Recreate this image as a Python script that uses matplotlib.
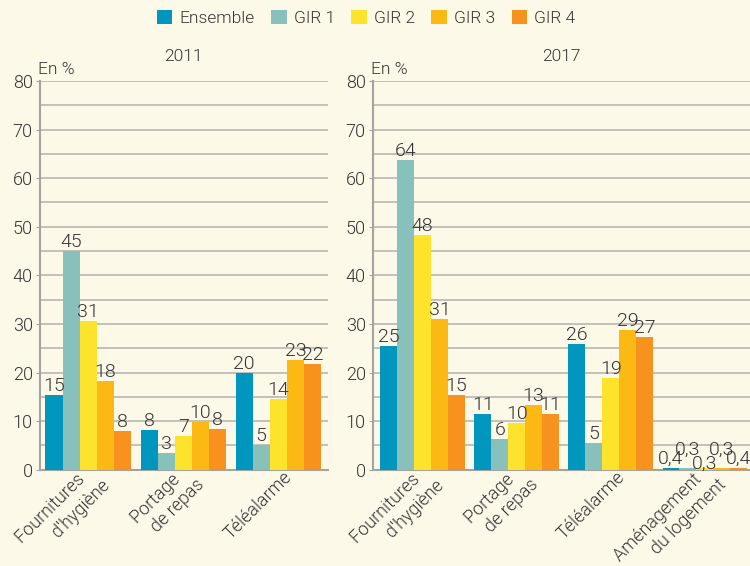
import matplotlib
matplotlib.use("Agg")
import numpy as np
import matplotlib.pyplot as plt
import matplotlib.transforms as mtransforms
from matplotlib.patches import Patch

# -------- DATA --------
series = ["Ensemble", "GIR 1", "GIR 2", "GIR 3", "GIR 4"]

cats_2011 = ["Fournitures   \nd'hygiène", "Portage   \nde repas", "Téléalarme"]
vals_2011 = [
    [15.3, 8.2, 20.0],   # Ensemble
    [45.0, 3.4, 5.0],    # GIR 1
    [30.7, 6.9, 14.5],   # GIR 2
    [18.3, 9.8, 22.5],   # GIR 3
    [7.9, 8.4, 21.7],    # GIR 4
]
labels_2011 = [
    ["15", "8", "20"],
    ["45", "3", "5"],
    ["31", "7", "14"],
    ["18", "10", "23"],
    ["8", "8", "22"],
]

cats_2017 = ["Fournitures   \nd'hygiène", "Portage   \nde repas", "Téléalarme",
             "Aménagement   \ndu logement"]
vals_2017 = [
    [25.4, 11.5, 25.8, 0.4],
    [63.7, 6.3, 5.5, 0.3],
    [48.3, 9.7, 18.9, 0.3],
    [31.0, 13.4, 28.7, 0.3],
    [15.4, 11.5, 27.4, 0.4],
]
labels_2017 = [
    ["25", "11", "26", "0,4"],
    ["64", "6", "5", "0,3"],
    ["48", "10", "19", "0,3"],
    ["31", "13", "29", "0,3"],
    ["15", "11", "27", "0,4"],
]

# -------- STYLE --------
COLORS = ["#0096BE", "#88C1BB", "#FEE32D", "#FDB913", "#F7921E"]
BG = "#FDF9E9"
TEXT = "#333333"
GRID = "#BDBCB4"
SPINE = "#A3A3A0"
BAR_W = 0.18
W = 300

plt.rcParams["font.family"] = ["Roboto", "DejaVu Sans"]
plt.rcParams["font.weight"] = W
plt.rcParams["axes.titleweight"] = W
plt.rcParams["text.color"] = TEXT


def draw_panel(ax, cats, vals, labels, title, xlim, small_offsets=None):
    x = np.arange(len(cats))
    for i, (v, lab) in enumerate(zip(vals, labels)):
        pos = x + (i - 2) * BAR_W
        ax.bar(pos, v, width=BAR_W, color=COLORS[i], zorder=3)
        for j, (p, h, t) in enumerate(zip(pos, v, lab)):
            dy = 0.0
            if small_offsets is not None and j == len(cats) - 1:
                dy = small_offsets[i]
            ax.annotate(t, (p, h), xytext=(0, dy), textcoords="offset points",
                        ha="center", va="bottom", fontsize=14, color=TEXT,
                        fontweight=W, zorder=4)

    ax.set_facecolor(BG)
    ax.set_ylim(0, 80)
    ax.set_xlim(*xlim)
    ax.set_yticks(np.arange(0, 81, 10))
    ax.set_yticks(np.arange(5, 80, 10), minor=True)
    ax.grid(axis="y", which="both", color=GRID, linewidth=1.3, zorder=0)
    ax.tick_params(axis="y", which="major", length=3, color=SPINE,
                   labelsize=13, labelcolor=TEXT, pad=2)
    ax.tick_params(axis="y", which="minor", length=0)
    ax.tick_params(axis="x", length=0, pad=0)
    for lbl in ax.get_yticklabels():
        lbl.set_fontweight(W)

    for s in ["top", "right"]:
        ax.spines[s].set_visible(False)
    for s in ["left", "bottom"]:
        ax.spines[s].set_color(SPINE)
        ax.spines[s].set_linewidth(1.5)

    ax.set_xticks(x)
    ax.set_xticklabels(cats, rotation=45, ha="right", va="center",
                       rotation_mode="anchor", multialignment="right",
                       fontsize=13, fontweight=W, color=TEXT)
    offset = mtransforms.ScaledTranslation(0.11, -0.05, ax.figure.dpi_scale_trans)
    for lbl in ax.get_xticklabels():
        lbl.set_transform(lbl.get_transform() + offset)

    ax.set_title(title, fontsize=12.5, color=TEXT, pad=14, fontweight=W)
    ax.text(-0.005, 1.01, "En %", transform=ax.transAxes, ha="left",
            va="bottom", fontsize=12.5, fontweight=W, color=TEXT)


fig = plt.figure(figsize=(7.5, 5.66), dpi=100)
fig.patch.set_facecolor(BG)

ax1 = fig.add_axes([0.053, 0.170, 0.384, 0.687])
ax2 = fig.add_axes([0.497, 0.170, 0.503, 0.687])

draw_panel(ax1, cats_2011, vals_2011, labels_2011, "2011", (-0.51, 2.52))
draw_panel(ax2, cats_2017, vals_2017, labels_2017, "2017", (-0.53, 3.48),
           small_offsets=[0.0, 7, -3, 7, 0.0])

handles = [Patch(facecolor=c, edgecolor="none") for c in COLORS]
fig.legend(handles, series, loc="center", bbox_to_anchor=(0.488, 0.968),
           ncol=5, frameon=False, prop={"size": 12.5, "weight": W},
           handlelength=0.9, handleheight=0.9, handletextpad=0.4,
           columnspacing=0.95)

fig.savefig("out.png", dpi=100, facecolor=BG)
